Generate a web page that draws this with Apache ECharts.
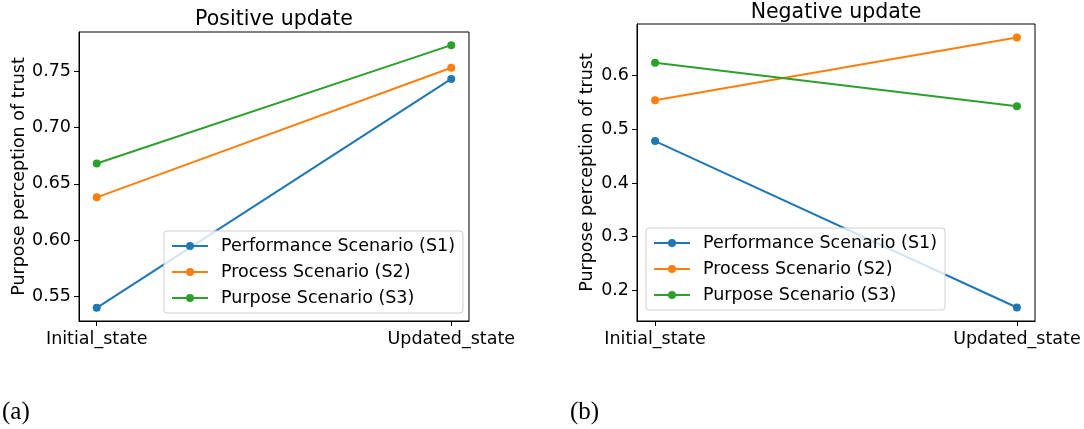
<!DOCTYPE html>
<html>
<head>
<meta charset="utf-8">
<script src="https://cdn.jsdelivr.net/npm/echarts@6/dist/echarts.min.js"></script>
<style>
html, body { margin: 0; padding: 0; background: #fff; }
#main { width: 1084px; height: 429px; }
</style>
</head>
<body>
<div id="main"></div>
<script>
// data
var categories = ['Initial_state', 'Updated_state'];
var scenarioNames = ['Performance Scenario (S1)', 'Process Scenario (S2)', 'Purpose Scenario (S3)'];

var posS1 = [0.540, 0.743];
var posS2 = [0.638, 0.753];
var posS3 = [0.668, 0.773];

var negS1 = [0.478, 0.168];
var negS2 = [0.554, 0.671];
var negS3 = [0.624, 0.543];

var posTicks = [0.55, 0.60, 0.65, 0.70, 0.75];
var negTicks = [0.2, 0.3, 0.4, 0.5, 0.6];

var colors = ['#1f77b4', '#ff7f0e', '#2ca02c'];
var FONT = 'DejaVu Sans';
var FS = 17.5;

// matplotlib style autoscale, 5% margin
function yRange(list) {
	var all = [].concat.apply([], list);
	var lo = Math.min.apply(null, all), hi = Math.max.apply(null, all);
	var pad = (hi - lo) * 0.05;
	return [lo - pad, hi + pad];
}

function makeX(gi) {
	return {
		type: 'value', gridIndex: gi, min: -0.05, max: 1.05,
		axisLine: { show: true, onZero: false, lineStyle: { color: '#000', width: 1 } },
		axisTick: { show: true, customValues: [0, 1], length: 5, lineStyle: { color: '#000' } },
		axisLabel: {
			customValues: [0, 1], margin: 9, fontSize: FS, color: '#000', fontFamily: FONT,
			formatter: function (v) { return categories[Math.round(v)]; }
		},
		splitLine: { show: false }
	};
}

function makeY(gi, range, ticks, digits, gap) {
	return {
		type: 'value', gridIndex: gi, min: range[0], max: range[1],
		name: 'Purpose perception of trust', nameLocation: 'middle', nameGap: gap,
		nameTextStyle: { fontSize: FS, color: '#000', fontFamily: FONT },
		axisLine: { show: true, onZero: false, lineStyle: { color: '#000', width: 1 } },
		axisTick: { show: true, customValues: ticks, length: 5, lineStyle: { color: '#000' } },
		axisLabel: {
			customValues: ticks, margin: 8, fontSize: FS, color: '#000', fontFamily: FONT,
			formatter: function (v) { return v.toFixed(digits); }
		},
		splitLine: { show: false }
	};
}

function makeSeries(gi, values, i) {
	return {
		name: scenarioNames[i], type: 'line', xAxisIndex: gi, yAxisIndex: gi,
		data: values.map(function (v, k) { return [k, v]; }),
		symbol: 'circle', symbolSize: 8,
		lineStyle: { width: 2, color: colors[i] },
		itemStyle: { color: colors[i] },
		emphasis: { disabled: true }
	};
}

function makeLegend(left, top) {
	return {
		orient: 'vertical', left: left, top: top, padding: [6, 8, 6, 7],
		itemWidth: 36, itemHeight: 10, itemGap: 8,
		borderColor: '#d0d0d0', borderWidth: 1, borderRadius: 3,
		backgroundColor: 'rgba(255,255,255,0.8)',
		textStyle: { fontSize: FS, color: '#000', fontFamily: FONT, padding: [0, 0, 0, 8] },
		data: scenarioNames
	};
}

var myChart = echarts.init(document.getElementById('main'));
var option = {
	animation: false,
	backgroundColor: '#fff',
	title: [
		{ text: 'Positive update', left: 274, top: 9, textAlign: 'center', padding: 0,
		  textStyle: { fontSize: 20.5, fontWeight: 'normal', color: '#000', fontFamily: FONT } },
		{ text: 'Negative update', left: 836, top: 2, textAlign: 'center', padding: 0,
		  textStyle: { fontSize: 20.5, fontWeight: 'normal', color: '#000', fontFamily: FONT } }
	],
	grid: [
		{ left: 79, top: 32, width: 390, height: 289, show: true, borderColor: '#000', borderWidth: 1, containLabel: false },
		{ left: 637, top: 24, width: 398, height: 297, show: true, borderColor: '#000', borderWidth: 1, containLabel: false }
	],
	xAxis: [makeX(0), makeX(1)],
	yAxis: [
		makeY(0, yRange([posS1, posS2, posS3]), posTicks, 2, 51),
		makeY(1, yRange([negS1, negS2, negS3]), negTicks, 1, 41)
	],
	legend: [makeLegend(164, 231), makeLegend(646, 228)],
	series: [
		makeSeries(0, posS1, 0), makeSeries(0, posS2, 1), makeSeries(0, posS3, 2),
		makeSeries(1, negS1, 0), makeSeries(1, negS2, 1), makeSeries(1, negS3, 2)
	],
	graphic: [
		{ type: 'text', left: 2, top: 400, style: { text: '(a)', font: '25px "Liberation Serif"', fill: '#000' } },
		{ type: 'text', left: 570, top: 400, style: { text: '(b)', font: '25px "Liberation Serif"', fill: '#000' } }
	]
};
myChart.setOption(option);
</script>
</body>
</html>
